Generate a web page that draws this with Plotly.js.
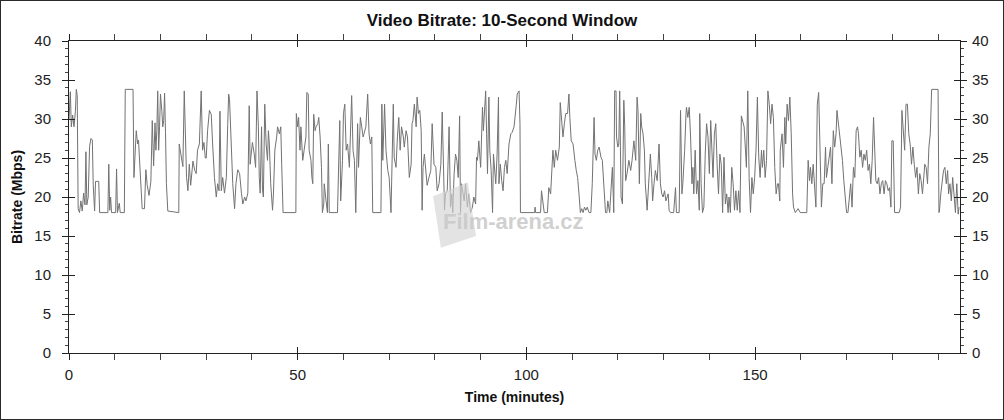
<!DOCTYPE html>
<html>
<head>
<meta charset="utf-8">
<script src="https://cdn.plot.ly/plotly-3.0.1.min.js"></script>
<style>
  html, body { margin: 0; padding: 0; background: #fff; }
  #wrap { position: relative; width: 1004px; height: 420px; }
  #chart { width: 1004px; height: 420px; }
  #frame { position: absolute; left: 0; top: 0; width: 1004px; height: 420px; box-sizing: border-box; border: 1px solid #2a2a2a; pointer-events: none; }
</style>
</head>
<body>
<div id="wrap"><div id="chart"></div><div id="frame"></div></div>
<script>
// [time (minutes), bitrate (Mbps)], in five stretches
const minutes0to39 = [
[0,30],[0.3,33.5],[0.5,29],[0.8,30.5],[1.1,29],[1.4,31],[1.6,33.8],[1.8,33],[2.0,18.5],[2.3,18],[2.6,19.5],[2.9,18.2],
[3.2,20.5],[3.5,19],[3.7,25.8],[3.9,19],[4.2,20],[4.5,26.5],[4.8,27.5],[5.1,27.3],[5.3,21.5],[5.6,18.2],[5.8,22],[6.5,22],
[6.7,18],[8.5,18],[8.7,24.2],[8.9,18.3],[9.1,20],[9.3,18],[10.2,18],[10.4,23.6],[10.6,18],[11.0,19.2],[11.2,18],[12.1,18],
[12.3,33.8],[14.0,33.8],[14.2,22.5],[14.5,26],[14.7,28.5],[15.0,26.8],[15.2,27.3],[15.4,25],[15.7,21],[16.0,18.5],[16.5,18.5],
[16.8,23.5],[17.1,21.5],[17.5,20.2],[17.9,22],[18.2,29.8],[18.5,24],[18.8,29.5],[19.0,26],[19.2,28.5],[19.4,33.6],[19.6,26],
[19.8,29],[20.0,33.2],[20.3,31],[20.5,29],[20.7,29.8],[20.9,33.3],[21.1,28.3],[21.3,21.7],[21.6,18.2],[24.0,18],[24.1,26.8],
[24.5,25],[24.9,23.9],[25.2,33.6],[25.5,26],[25.7,22.5],[26.0,20.8],[26.3,24.2],[26.6,21.5],[26.9,23.8],[27.1,24.6],[27.5,23.4],
[27.8,23],[28.1,26],[28.5,26.8],[28.9,33.6],[29.2,26],[29.5,27],[29.8,25],[30.0,25],[30.3,28.5],[30.7,31.1],[31.1,30.6],
[31.4,26.8],[31.8,22.5],[32.2,20],[32.5,21.7],[32.8,20.8],[33.0,31],[33.3,20.8],[33.6,22.5],[34.0,20.5],[34.4,22.5],[34.7,29.3],
[34.9,33.2],[35.1,32.5],[35.4,26.8],[35.8,21.7],[36.2,18.5],[36.5,21.7],[36.9,23.5],[37.3,23],[37.7,20.5],[38.0,19.1],[38.4,20]
];
const minutes39to78 = [
[38.7,19.5],[39.1,20.5],[39.4,31.7],[39.6,24.2],[39.9,25.5],[40.1,27],[40.5,25.5],[40.8,23.8],[41.1,33.6],[41.4,29],[41.6,22.5],
[41.8,20.5],[42.1,29],[42.3,21],[42.5,20],[42.8,31.9],[43.1,26.8],[43.4,24.7],[43.6,28.5],[43.8,26.8],[44.1,21.7],[44.5,18.3],
[44.7,20.4],[45.0,26],[45.4,27.7],[45.6,29],[46.0,28.1],[46.3,29],[46.5,24.2],[46.8,18],[49.6,18],[49.7,30.7],[50.0,29],
[50.2,30.2],[50.5,26],[50.7,29],[51.1,24.7],[51.4,26],[51.8,27.7],[52.0,33.4],[52.3,33.2],[52.5,26],[52.9,24.7],[53.1,22.5],
[53.3,21.7],[53.5,30.6],[53.8,28.5],[54.0,29],[54.4,29.4],[54.6,30.2],[54.9,27.7],[55.2,23.8],[55.4,18],[55.7,19.1],[55.8,21.7],
[56.2,19.5],[56.5,18],[56.7,26.8],[56.9,18],[58.7,18],[58.9,21.7],[59.2,29.8],[59.4,19.5],[59.8,24.7],[60.0,30.7],[60.3,31.9],
[60.6,26],[60.9,26.8],[61.3,23.8],[61.5,28.1],[61.8,33],[62.1,26],[62.4,24.7],[62.7,18],[63.1,29.4],[63.3,23.8],[63.7,30.2],
[64.0,29],[64.3,27.7],[64.5,28.1],[64.9,29],[65.3,33.2],[65.6,28.1],[65.9,26.8],[66.2,27.7],[66.4,18],[68.2,18],[68.4,31.9],
[68.6,24.7],[69.0,31.9],[69.3,26],[69.7,23.4],[70.0,22.5],[70.4,18],[70.6,22.5],[70.9,31.9],[71.1,25],[71.5,23.8],[71.8,27.7],
[72.1,30.2],[72.4,26],[72.7,29],[73.1,27.7],[73.3,26.4],[73.7,28.5],[74.0,27.7],[74.4,22.5],[74.8,24.2],[75.0,29.4],[75.2,29.8],
[75.5,31.9],[75.9,29],[76.1,32.8],[76.4,30.7],[76.7,31.1],[77.0,28.5],[77.2,18.3],[77.4,23.8]
];
const minutes78to117 = [
[77.7,25.5],[78.0,23],[78.3,21.5],[78.7,22.5],[79.1,23.4],[79.4,29.4],[79.8,24.2],[80.2,23.8],[80.5,20.8],[80.9,21.7],[81.3,24.2],
[81.6,30.9],[81.8,26],[82.1,18.3],[82.3,20.4],[82.7,20.8],[83.1,29],[83.4,18.7],[83.7,20.4],[83.9,18],[84.2,23],[84.5,25.5],
[84.8,24.7],[85.1,22.5],[85.4,30.4],[85.6,18],[85.8,21.7],[86.1,20.8],[86.4,19.5],[86.7,21.7],[87.1,18.7],[87.4,20.4],[87.8,18],
[88.2,18.7],[88.5,20],[88.9,19.1],[89.1,25.1],[89.3,24.7],[89.6,27.2],[90.0,23.8],[90.2,26.8],[90.4,31.5],[90.6,28.5],[90.8,31.5],
[91.1,33.6],[91.3,28.1],[91.5,23],[91.8,32.8],[92.0,26],[92.3,23.4],[92.6,18],[92.8,25.5],[93.0,23.8],[93.3,21.7],[93.6,25.5],
[93.9,32.8],[94.0,21.7],[94.3,24.2],[94.6,22.1],[94.9,20.8],[95.2,23.8],[95.5,24.7],[95.8,23],[96.2,26.8],[96.6,28.1],[96.9,28.3],
[97.3,29],[97.5,30.7],[97.8,31.9],[98.0,33.2],[98.4,33.6],[98.6,29.4],[98.7,18],[101.8,18],[101.9,18.7],[102.0,18],[103.1,18],
[103.3,20.8],[103.6,19.5],[103.9,18],[104.6,18],[104.9,21.2],[105.3,20.4],[105.5,22.1],[105.8,26],[106.1,23.8],[106.4,26],
[106.8,24.7],[107.2,26.4],[107.4,32.1],[107.7,30.2],[108.0,27.7],[108.3,29.4],[108.6,30.7],[109.0,30.7],[109.3,33.2],[109.5,30.2],
[109.8,27.2],[110.2,26.8],[110.4,25.1],[110.6,24.7],[110.9,23.4],[111.2,22.5],[111.5,20.4],[111.8,18],[112.1,18.5],[112.4,18],
[112.7,18.7],[113.0,18.3],[113.3,18.7],[113.7,18],[114.1,18],[114.4,21.7],[114.8,30.2],[115.0,25.5],[115.3,24.7],[115.6,26],
[115.9,26.4],[116.3,25.1],[116.6,24.7]
];
const minutes117to155 = [
[116.9,21.7],[117.3,18],[117.6,18],[117.8,19.5],[118.2,18],[118.5,21.7],[118.8,23.8],[119.1,18],[119.3,33.6],[119.6,33.6],
[119.7,27.7],[120.0,26.4],[120.2,26.8],[120.4,33.6],[120.7,20],[121.0,19.1],[121.3,32.4],[121.5,29],[121.7,22.1],[122.0,23],
[122.4,24.7],[122.8,23.4],[123.1,24.7],[123.5,27.2],[123.7,26],[123.9,24.7],[124.2,32.8],[124.4,31.1],[124.7,21.7],[125.0,30.7],
[125.2,29],[125.5,28.1],[125.8,26],[126.0,21.7],[126.4,18.3],[126.8,21.7],[127.1,25.5],[127.4,22.5],[127.6,19.5],[127.9,21.7],
[128.2,23.4],[128.6,22.1],[128.8,24.7],[129.0,26.8],[129.3,21.7],[129.6,20.4],[129.9,20],[130.2,20.8],[130.5,19.5],[130.8,20],
[131.0,20.4],[131.2,18.3],[131.5,18],[132.2,18],[132.6,21.2],[132.8,18],[133.4,18],[133.7,31.1],[134.0,20.4],[134.2,21.7],
[134.4,23.4],[134.6,26],[134.9,30.7],[135.0,31.5],[135.3,30.2],[135.6,31.5],[135.9,27.7],[136.2,21.7],[136.4,23.8],[136.6,20.4],
[136.9,26],[137.2,20.4],[137.5,22.1],[137.8,18.3],[137.9,30.7],[138.2,21.7],[138.5,18],[138.8,18.7],[139.1,25.5],[139.4,29.4],
[139.7,27.7],[140.0,23],[140.3,29.8],[140.6,26],[140.8,22.5],[141.1,28.1],[141.4,29.4],[141.7,24.2],[142.0,20.4],[142.3,25.5],
[142.6,24.2],[142.9,18],[143.2,25.1],[143.5,19.1],[143.8,20.4],[144.1,18],[144.3,20],[144.6,18],[144.9,23.8],[145.2,21.7],
[145.5,18.3],[145.8,20.8],[146.1,18.3],[146.4,20.8],[146.7,18],[147.0,30.4],[147.3,29.8],[147.6,29],[147.9,26],[148.1,23.8],
[148.4,33.6],[148.7,22.5],[149.0,18],[149.3,22.5],[149.6,20.4],[149.9,22.5],[150.2,26],[150.5,32.8],[150.8,25.1],[151.1,22.5],
[151.4,26],[151.6,23.8],[151.9,26],[152.2,22.5],[152.5,24.7],[152.8,33.6],[153.1,31.9],[153.4,29.4],[153.7,31.9],[154.0,30.2],
[154.3,23.8],[154.6,20.4],[154.9,21.7],[155.1,21.7]
];
const minutes155to195 = [
[155.4,19.5],[155.5,26],[155.9,28.1],[156.2,23.8],[156.5,30.2],[156.7,26.8],[157.0,31.9],[157.3,29.8],[157.6,32.8],[157.9,28.1],
[158.2,20.4],[158.4,18.7],[158.8,18],[159.4,18.5],[159.9,18],[161.3,18],[161.6,24.7],[161.9,22.1],[162.1,23.8],[162.4,21.7],
[162.7,24.2],[163.0,21.7],[163.3,18.7],[163.6,31.9],[163.9,33.4],[164.2,26],[164.5,18.7],[164.8,21.7],[165.1,21.7],[165.4,26.4],
[165.6,22.5],[165.9,23.8],[166.2,25.5],[166.5,26.4],[166.8,21.7],[167.1,28.5],[167.4,26.4],[167.7,28.1],[167.9,31.1],[168.3,29],
[168.5,27.7],[168.8,26.4],[169.1,24.7],[169.4,22.1],[169.7,19.5],[170.0,18],[170.3,18],[170.6,20.4],[170.9,21.7],[171.2,18.7],
[171.5,23.8],[171.8,22.5],[172.1,28.5],[172.4,29],[172.6,28.1],[172.9,25.1],[173.2,26],[173.5,23.8],[173.8,25.5],[174.1,24.7],
[174.4,26],[174.7,23.4],[175.0,24.2],[175.3,21.7],[175.6,24.7],[175.9,30.2],[176.1,27.7],[176.4,22.1],[176.7,21.7],[177.0,22.5],
[177.3,20.4],[177.6,21.7],[177.9,22.1],[178.2,20.4],[178.5,22.1],[178.8,21.7],[179.1,20.8],[179.4,21.2],[179.7,18.7],[179.9,27.2],
[180.2,27.2],[180.5,18],[181.5,18],[181.8,18.7],[182.1,31.1],[182.4,28.1],[182.7,26],[183.0,31.9],[183.3,31.9],[183.6,28.1],
[183.9,26.8],[184.2,24.2],[184.5,26.4],[184.8,24.2],[185.1,22.5],[185.4,23.8],[185.7,20.4],[186.0,23],[186.3,22.1],[186.6,20.4],
[186.8,21.7],[187.1,24.2],[187.4,23.8],[187.7,21.7],[188.0,26.4],[188.3,28.1],[188.6,33.8],[190.0,33.8],[190.2,18],[190.3,18.2],
[190.6,20.4],[190.9,22.1],[191.2,23.4],[191.5,23.8],[191.8,21.7],[192.1,23.4],[192.3,20.4],[192.6,21.7],[192.9,19.5],[193.2,22.5],
[193.5,20.4],[193.8,18],[194.1,21.7],[194.4,17.8],[194.6,18.7]
];

const yTickVals = [0, 5, 10, 15, 20, 25, 30, 35, 40];
const xTickVals = [0, 50, 100, 150];
const chartTitle = 'Video Bitrate: 10-Second Window';
const xTitle = 'Time (minutes)';
const yTitle = 'Bitrate (Mbps)';
const watermark = 'Film-arena.cz';

const samples = [].concat(minutes0to39, minutes39to78, minutes78to117, minutes117to155, minutes155to195);
const timeMin = samples.map(p => p[0]);
const mbps = samples.map(p => p[1]);

const FONT = '"Liberation Sans Narrow", "Liberation Sans", Arial, sans-serif';
const XR = [0, 194.8];
const YR = [0, 40];

const traces = [
  { x: timeMin, y: mbps, type: 'scatter', mode: 'lines',
    line: { color: '#727272', width: 1 }, hoverinfo: 'x+y', showlegend: false },
  { x: [null], y: [null], xaxis: 'x2', yaxis: 'y2', type: 'scatter', mode: 'lines', showlegend: false, hoverinfo: 'skip' },
  { x: [null], y: [null], yaxis: 'y3', type: 'scatter', mode: 'lines', showlegend: false, hoverinfo: 'skip' }
];

const tickFont = { family: FONT, size: 15, color: '#222' };
const layout = {
  width: 1004, height: 420,
  margin: { l: 69, r: 44, t: 41, b: 67, pad: 0 },
  paper_bgcolor: '#fff', plot_bgcolor: '#fff',
  title: { text: '<b>' + chartTitle + '</b>', x: 0.5, xref: 'container', y: 0.952, yanchor: 'middle',
           font: { family: FONT, size: 17, color: '#111' } },
  xaxis: {
    range: XR, tickvals: xTickVals, ticks: 'outside', ticklen: 6, tickwidth: 1, tickcolor: '#222',
    showline: true, linecolor: '#222', linewidth: 1, mirror: 'allticks',
    minor: { dtick: 10, tick0: 0, ticks: 'outside', ticklen: 3, tickcolor: '#444', showgrid: false },
    showgrid: false, zeroline: false, tickfont: tickFont, ticklabelstandoff: 2,
    title: { text: '<b>' + xTitle + '</b>', font: { family: FONT, size: 14, color: '#111' }, standoff: 10 }
  },
  xaxis2: {
    overlaying: 'x', range: XR, tickvals: xTickVals, ticks: 'inside', ticklen: 6, tickcolor: '#222',
    showticklabels: false, showline: false, mirror: 'ticks', showgrid: false, zeroline: false
  },
  yaxis: {
    range: YR, tickvals: yTickVals, ticks: 'outside', ticklen: 6, tickcolor: '#222',
    showline: true, linecolor: '#222', linewidth: 1,
    minor: { dtick: 1, tick0: 0, ticks: 'outside', ticklen: 3, tickcolor: '#444', showgrid: false },
    showgrid: false, zeroline: false, tickfont: tickFont, ticklabelstandoff: 8,
    title: { text: '<b>' + yTitle + '</b>', font: { family: FONT, size: 14, color: '#111' }, standoff: 8 }
  },
  yaxis2: {
    overlaying: 'y', anchor: 'x2', range: YR, tickvals: yTickVals, ticks: 'inside', ticklen: 6, tickcolor: '#222',
    showticklabels: false, showline: false, mirror: 'ticks', showgrid: false, zeroline: false
  },
  yaxis3: {
    overlaying: 'y', side: 'right', range: YR, tickvals: yTickVals, ticks: 'outside', ticklen: 6, tickcolor: '#222',
    showline: true, linecolor: '#222', linewidth: 1,
    minor: { dtick: 1, tick0: 0, ticks: 'outside', ticklen: 3, tickcolor: '#444', showgrid: false },
    showgrid: false, zeroline: false, tickfont: tickFont, ticklabelstandoff: 2
  },
  shapes: [
    { type: 'path', xref: 'x', yref: 'y', layer: 'above', opacity: 0.65,
      path: 'M79.6,20.1 L87.2,21.9 L89,15 L81.3,13.5 Z', fillcolor: '#d4d4d4', line: { width: 0 } }
  ],
  annotations: [
    { text: '<b>' + watermark + '</b>', x: 97.1, y: 16.9, xref: 'x', yref: 'y', showarrow: false,
      font: { family: '"Liberation Sans", Arial, sans-serif', size: 22, color: 'rgba(200,200,200,0.85)' } }
  ]
};

Plotly.newPlot('chart', traces, layout, { displayModeBar: false, staticPlot: true });
</script>
</body>
</html>
